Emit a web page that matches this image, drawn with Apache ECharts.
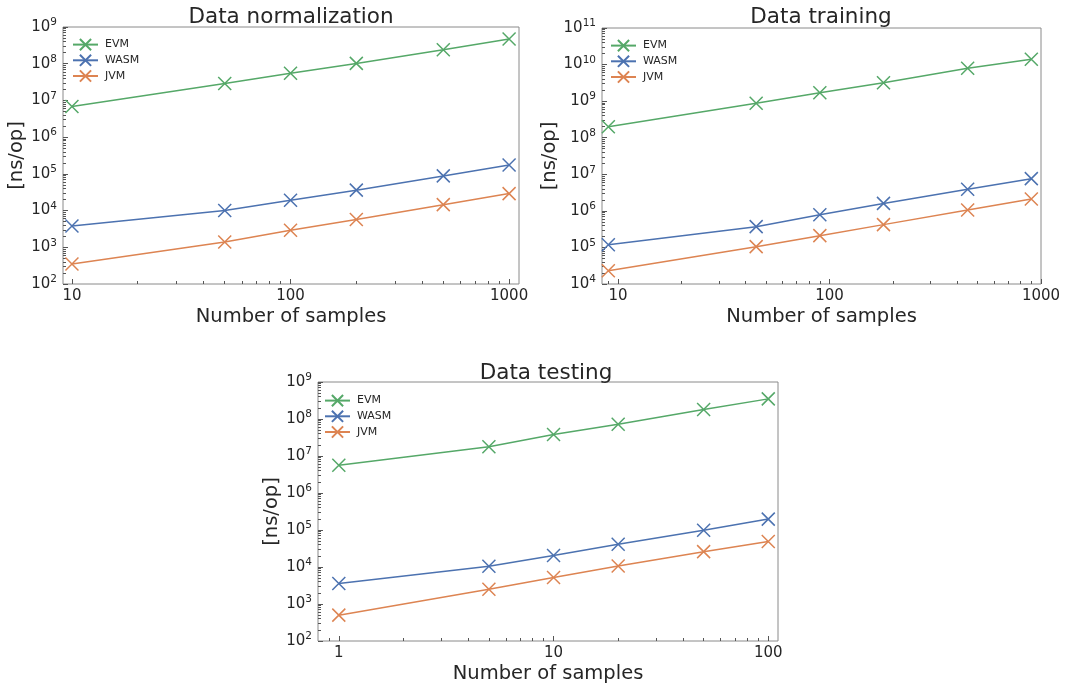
<!DOCTYPE html>
<html><head><meta charset="utf-8">
<script src="https://cdn.jsdelivr.net/npm/echarts@6/dist/echarts.min.js"></script>
<style>html,body{margin:0;padding:0;background:#fff}#c{width:1067px;height:686px}</style>
</head><body><div id="c"></div>
<script>
// ---------- data ----------
const seriesNames = ['EVM', 'WASM', 'JVM'];
const titles = ['Data normalization', 'Data training', 'Data testing'];
const xAxisName = 'Number of samples';
const yAxisName = '[ns/op]';

const normSamples = [10, 50, 100, 200, 500, 1000];
const normEVM  = [6.8e6, 2.9e7, 5.5e7, 1.02e8, 2.4e8, 4.7e8];
const normWASM = [3.8e3, 1.0e4, 1.9e4, 3.6e4, 8.8e4, 1.75e5];
const normJVM  = [350, 1.4e3, 2.9e3, 5.7e3, 1.45e4, 2.9e4];

const trainSamples = [9, 45, 90, 180, 450, 900];
const trainEVM  = [2.0e8, 8.8e8, 1.7e9, 3.2e9, 7.9e9, 1.4e10];
const trainWASM = [1.18e5, 3.7e5, 7.8e5, 1.6e6, 3.9e6, 7.6e6];
const trainJVM  = [2.3e4, 1.05e5, 2.1e5, 4.2e5, 1.05e6, 2.1e6];

const testSamples = [1, 5, 10, 20, 50, 100];
const testEVM  = [5.6e6, 1.78e7, 3.8e7, 7.2e7, 1.8e8, 3.5e8];
const testWASM = [3.6e3, 1.05e4, 2.05e4, 4.1e4, 9.8e4, 1.97e5];
const testJVM  = [500, 2.5e3, 5.2e3, 1.06e4, 2.6e4, 4.9e4];

const normXTicks  = [10, 100, 1000];
const trainXTicks = [10, 100, 1000];
const testXTicks  = [1, 10, 100];
const normYTicks  = [1e2, 1e3, 1e4, 1e5, 1e6, 1e7, 1e8, 1e9];
const trainYTicks = [1e4, 1e5, 1e6, 1e7, 1e8, 1e9, 1e10, 1e11];
const testYTicks  = [1e2, 1e3, 1e4, 1e5, 1e6, 1e7, 1e8, 1e9];

// ---------- assembly ----------
const panels = [
  { samples: normSamples, vals: [normEVM, normWASM, normJVM], xTicks: normXTicks, yTicks: normYTicks },
  { samples: trainSamples, vals: [trainEVM, trainWASM, trainJVM], xTicks: trainXTicks, yTicks: trainYTicks },
  { samples: testSamples, vals: [testEVM, testWASM, testJVM], xTicks: testXTicks, yTicks: testYTicks }
];
const layouts = [
  { grid: { left: 63, top: 27, width: 456, height: 257 }, xMin: 9.1, xMax: 1110, legend: { left: 67, top: 33 }, titleX: 286, titleTop: 1, yGap: 29 },
  { grid: { left: 602, top: 28, width: 439, height: 256 }, xMin: 8.4, xMax: 1000, legend: { left: 605, top: 34 }, titleX: 816, titleTop: 1, yGap: 37 },
  { grid: { left: 318, top: 382, width: 460, height: 259 }, xMin: 0.8, xMax: 111, legend: { left: 319, top: 389 }, titleX: 541, titleTop: 357, yGap: 32 }
];
const colors = ['#55a868', '#4c72b0', '#dd8452'];
const FONT = 'DejaVu Sans';
const TXT = '#262626';
const xSym = 'path://M0 0L10 10M10 0L0 10';

function minorTicks(min, max) {
  const out = [];
  for (let d = Math.floor(Math.log10(min)) - 1; d <= Math.ceil(Math.log10(max)); d++) {
    for (let m = 2; m <= 9; m++) {
      const v = m * Math.pow(10, d);
      if (v > min && v < max) out.push(v);
    }
  }
  return out;
}

const option = { animation: false, title: [], legend: [], grid: [], xAxis: [], yAxis: [], series: [] };

panels.forEach((p, k) => {
  const L = layouts[k];
  const yMin = p.yTicks[0], yMax = p.yTicks[p.yTicks.length - 1];
  option.title.push({
    text: titles[k], left: L.titleX, top: L.titleTop, textAlign: 'center',
    textStyle: { fontFamily: FONT, fontSize: 21.5, fontWeight: 'normal', color: TXT }
  });
  option.legend.push({
    data: seriesNames, orient: 'vertical', left: L.legend.left, top: L.legend.top,
    itemWidth: 25, itemHeight: 14, itemGap: 2.5,
    textStyle: { fontFamily: FONT, fontSize: 11, color: TXT, padding: [0, 0, 0, 2] }
  });
  option.grid.push(Object.assign({ show: true, borderColor: '#8a8a8a', borderWidth: 1, backgroundColor: 'transparent', containLabel: false }, L.grid));

  const xBase = {
    type: 'log', logBase: 10, gridIndex: k, min: L.xMin, max: L.xMax, position: 'bottom',
    axisLine: { show: false }, splitLine: { show: false }, minorTick: { show: false }
  };
  option.xAxis.push(Object.assign({}, xBase, {
    name: xAxisName, nameLocation: 'middle', nameGap: 23,
    nameTextStyle: { fontFamily: FONT, fontSize: 19.5, color: TXT, verticalAlign: 'top' },
    axisTick: { show: true, inside: true, length: 5, customValues: p.xTicks, lineStyle: { color: '#555', width: 1 } },
    axisLabel: { show: true, customValues: p.xTicks, margin: 5, fontFamily: FONT, fontSize: 15, color: TXT,
      formatter: v => String(Math.round(v)) }
  }));
  option.xAxis.push(Object.assign({}, xBase, {
    axisTick: { show: true, inside: true, length: 3, customValues: minorTicks(L.xMin, L.xMax), lineStyle: { color: '#555', width: 1 } },
    axisLabel: { show: false }
  }));

  const yBase = {
    type: 'log', logBase: 10, gridIndex: k, min: yMin, max: yMax, position: 'left',
    axisLine: { show: false }, splitLine: { show: false }, minorTick: { show: false }
  };
  option.yAxis.push(Object.assign({}, yBase, {
    name: yAxisName, nameLocation: 'middle', nameGap: L.yGap, nameRotate: 90,
    nameTextStyle: { fontFamily: FONT, fontSize: 19.5, color: TXT },
    axisTick: { show: true, inside: true, length: 5, customValues: p.yTicks, lineStyle: { color: '#555', width: 1 } },
    axisLabel: {
      show: true, customValues: p.yTicks, margin: 6,
      formatter: v => '{b|10}{s|' + Math.round(Math.log10(v)) + '}',
      rich: {
        b: { fontFamily: FONT, fontSize: 15, color: TXT, lineHeight: 20 },
        s: { fontFamily: FONT, fontSize: 10.5, color: TXT, lineHeight: 12, verticalAlign: 'top' }
      }
    }
  }));
  option.yAxis.push(Object.assign({}, yBase, {
    axisTick: { show: true, inside: true, length: 3, customValues: minorTicks(yMin, yMax), lineStyle: { color: '#555', width: 1 } },
    axisLabel: { show: false }
  }));

  seriesNames.forEach((name, s) => {
    option.series.push({
      type: 'line', name: name, xAxisIndex: 2 * k, yAxisIndex: 2 * k,
      data: p.samples.map((x, i) => [x, p.vals[s][i]]),
      symbol: xSym, symbolSize: 13, showAllSymbol: true,
      lineStyle: { color: colors[s], width: 1.5 },
      itemStyle: { color: colors[s], borderColor: colors[s], borderWidth: 1.5 },
      emphasis: { disabled: true }
    });
  });
});

const chart = echarts.init(document.getElementById('c'), null, { renderer: 'canvas' });
chart.setOption(option);
</script>
</body></html>
